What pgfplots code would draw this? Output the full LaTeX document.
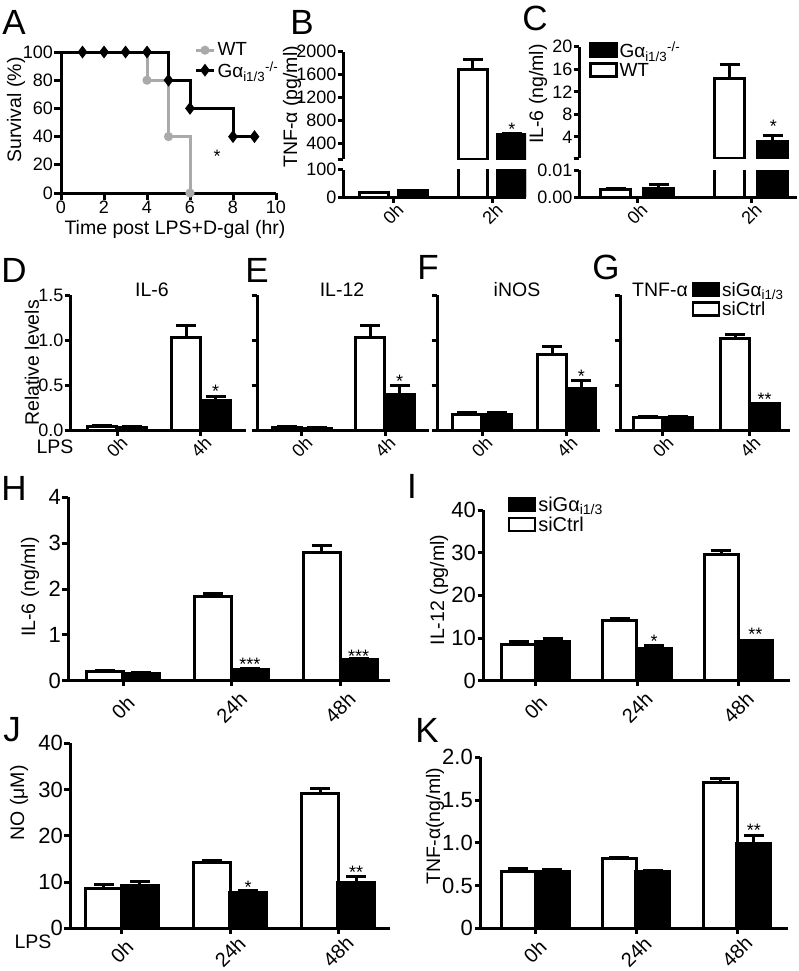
\documentclass[border=0pt]{standalone}
\usepackage{fontspec}
\setmainfont{Liberation Sans}
\usepackage{pgfplots}
\pgfplotsset{compat=1.18}
\definecolor{wtgray}{RGB}{170,170,170}
\newcommand{\fs}[1]{\fontsize{#1}{#1}\selectfont}
\newcommand{\Gai}{Gα\textsubscript{i1/3}}
\tikzset{st/.style={font=\fs{18}, anchor=base, yshift=-10.4pt}}
\pgfplotsset{
  base/.style={
    scale only axis, anchor=south west,
    axis x line*=bottom, axis y line*=left,
    axis line style={line width=3pt,-},
    tick style={line width=3pt, black},
    major tick length=5.5pt, tick align=outside,
    /pgf/number format/assume math mode=true,
    /pgf/number format/1000 sep={},
    scaled y ticks=false, scaled x ticks=false,
    every y tick label/.style={font=\fs{18}, inner sep=1pt},
    every x tick label/.style={yshift=-11pt, rotate=45, anchor=center, font=\fs{18}},
    clip mode=individual, clip marker paths=true,
  },
  big/.style={every y tick label/.style={font=\fs{22}, inner sep=1.5pt},
    every x tick label/.style={yshift=-21pt, rotate=45, anchor=center, font=\fs{20}}},
  bigb/.style={every y tick label/.style={font=\fs{22}, inner sep=1.5pt},
    every x tick label/.style={yshift=-18pt, rotate=45, anchor=center, font=\fs{20}}},
  boxleg/.style={legend image code/.code={\draw[##1, /tikz/.cd, line width=2.5pt] (0pt,-6pt) rectangle (26pt,7pt);}},
  lineleg/.style={legend image code/.code={\draw[##1, mark indices={2}] plot coordinates {(0pt,0pt) (9pt,0pt) (18pt,0pt)};}},
  wb/.style={ybar, bar shift=0pt, fill=white, draw=black, line width=3pt,
    error bars/y dir=plus, error bars/y explicit,
    error bars/error bar style={line width=3pt, black},
    error bars/error mark options={rotate=90, mark size=10pt, line width=3pt, black}, boxleg},
  bb/.style={ybar, bar shift=0pt, fill=black, draw=black, line width=3pt,
    error bars/y dir=plus, error bars/y explicit,
    error bars/error bar style={line width=3pt, black},
    error bars/error mark options={rotate=90, mark size=10pt, line width=3pt, black}, boxleg},
}
\begin{document}
\begin{tikzpicture}
\path[use as bounding box] (0,0) rectangle (799pt,-971pt);
% ---------------- A
\begin{axis}[base, at={(61pt,-193pt)}, width=215pt, height=141pt,
  xmin=0, xmax=10, ymin=0, ymax=100, xtick={0,2,...,10}, ytick={0,20,...,100},
  major tick length=7pt,
  every x tick label/.style={anchor=north, font=\fs{18}, inner sep=1pt},
  clip=false,
  legend style={at={(0.62,1.08)}, anchor=north west, draw=none, fill=none, font=\fs{19}, inner sep=0pt},
  legend cell align=left]
\addplot[const plot, wtgray, line width=3pt, mark=*, mark size=3pt, mark indices={2,3,4}, lineleg] coordinates {(0,100)(4,80)(5,40)(6,0)};
\addlegendentry{WT}
\addplot[const plot, black, line width=3pt, mark=diamond*, mark size=4pt, mark indices={2,3,4,5,6,7,8,9}, lineleg] coordinates {(0,100)(1,100)(2,100)(3,100)(4,100)(5,80)(6,60)(8,40)(9,40)};
\addlegendentry{\Gai\textsuperscript{-/-}}
\node[st] at (axis cs:7.26,29) {*};
\end{axis}
% ---------------- B (broken axis: lower 0-100, upper 120-2000)
\begin{axis}[base, at={(343pt,-197pt)}, width=183pt, height=27.5pt,
  xmin=-0.505, xmax=1.34, ymin=0, ymax=100, ytick={0,100}, xtick={0,1}, xticklabels={0h,2h},
  y filter/.expression={y>200 ? 200 : y}]
\addplot[wb, bar width=29pt] coordinates {(-0.197,15) +- (0,3) (0.803,1680) +- (0,190)};
\addplot[bb, bar width=29pt] coordinates {(0.197,22) +- (0,3) (1.197,550) +- (0,20)};
\end{axis}
\begin{axis}[base, at={(343pt,-159pt)}, width=183pt, height=107.3pt, axis x line=none,
  xmin=-0.505, xmax=1.34, ymin=120, ymax=2000, ytick={400,800,1200,1600,2000}, xtick=\empty,
  extra y ticks={120}, extra y tick labels={},
  unbounded coords=discard, y filter/.expression={y<120 ? nan : y}]
\addplot[wb, bar width=29pt] coordinates {(-0.197,15) +- (0,3) (0.803,1680) +- (0,190)};
\addplot[bb, bar width=29pt] coordinates {(0.197,22) +- (0,3) (1.197,550) +- (0,20)};
\node[st] at (axis cs:1.197,716) {*};
\end{axis}
% ---------------- C (broken axis: lower 0-0.01, upper 0.25-20)
\begin{axis}[base, at={(579pt,-197pt)}, width=218pt, height=27pt,
  xmin=-0.509, xmax=1.40, ymin=0, ymax=0.01, ytick={0,0.01}, yticklabels={0.00,0.01}, xtick={0,1}, xticklabels={0h,2h},
  y filter/.expression={y>0.02 ? 0.02 : y}]
\addplot[wb, bar width=30pt] coordinates {(-0.189,0.0028) +- (0,0.0004) (0.811,14.4) +- (0,0.0001)};
\addplot[bb, bar width=30pt] coordinates {(0.189,0.0032) +- (0,0.0015) (1.189,3.1) +- (0,0.0001)};
\end{axis}
\begin{axis}[base, at={(579pt,-158pt)}, width=218pt, height=111.3pt, axis x line=none,
  xmin=-0.509, xmax=1.40, ymin=0.25, ymax=20, ytick={4,8,12,16,20}, xtick=\empty,
  extra y ticks={0.25}, extra y tick labels={},
  unbounded coords=discard, y filter/.expression={y<0.25 ? nan : y},
  legend style={at={(0.045,1.065)}, anchor=north west, draw=none, fill=none, font=\fs{19}, inner sep=0pt},
  legend cell align=left]
\addplot[bb, bar width=30pt] coordinates {(0.189,0.0032) +- (0,0.0015) (1.189,3.1) +- (0,1.2)};
\addlegendentry{\Gai\textsuperscript{-/-}}
\addplot[wb, bar width=30pt] coordinates {(-0.189,0.0028) +- (0,0.0004) (0.811,14.4) +- (0,2.5)};
\addlegendentry{WT}
\node[st] at (axis cs:1.193,6.7) {*};
\end{axis}
% ---------------- D
\begin{axis}[base, at={(70pt,-430pt)}, width=176pt, height=135pt,
  xmin=-0.56, xmax=1.536, ymin=0, ymax=1.5, ytick={0,0.5,1,1.5}, xtick={0,1}, xticklabels={0h,4h},
  yticklabel style={/pgf/number format/.cd, fixed, fixed zerofill, precision=1}]
\addplot[wb, bar width=29pt] coordinates {(-0.173,0.035) +- (0,0.01) (0.827,1.03) +- (0,0.13)};
\addplot[bb, bar width=29pt] coordinates {(0.173,0.03) +- (0,0.005) (1.173,0.33) +- (0,0.04)};
\node[st] at (axis cs:1.173,0.48) {*};
\end{axis}
% ---------------- E
\begin{axis}[base, at={(257pt,-430pt)}, width=172pt, height=135pt,
  xmin=-0.542, xmax=1.53, ymin=0, ymax=1.5, ytick={0,0.5,1,1.5}, yticklabels={}, xtick={0,1}, xticklabels={0h,4h}]
\addplot[wb, bar width=29pt] coordinates {(-0.175,0.03) +- (0,0.01) (0.825,1.03) +- (0,0.13)};
\addplot[bb, bar width=29pt] coordinates {(0.175,0.02) +- (0,0.005) (1.175,0.40) +- (0,0.10)};
\node[st] at (axis cs:1.175,0.59) {*};
\end{axis}
% ---------------- F
\begin{axis}[base, at={(437pt,-430pt)}, width=163pt, height=135pt,
  xmin=-0.53, xmax=1.39, ymin=0, ymax=1.5, ytick={0,0.5,1,1.5}, yticklabels={}, xtick={0,1}, xticklabels={0h,4h}]
\addplot[wb, bar width=29pt] coordinates {(-0.171,0.17) +- (0,0.02) (0.829,0.84) +- (0,0.09)};
\addplot[bb, bar width=29pt] coordinates {(0.171,0.17) +- (0,0.02) (1.171,0.46) +- (0,0.09)};
\node[st] at (axis cs:1.171,0.64) {*};
\end{axis}
% ---------------- G
\begin{axis}[base, at={(620pt,-430pt)}, width=170pt, height=135pt,
  xmin=-0.494, xmax=1.46, ymin=0, ymax=1.5, ytick={0,0.5,1,1.5}, yticklabels={}, xtick={0,1}, xticklabels={0h,4h},
  legend style={at={(0.42,1.11)}, anchor=north west, draw=none, fill=none, font=\fs{19}, inner sep=0pt},
  legend cell align=left]
\addplot[bb, bar width=29pt] coordinates {(0.167,0.14) +- (0,0.005) (1.167,0.29) +- (0,0.01)};
\addlegendentry{si\Gai}
\addplot[wb, bar width=29pt] coordinates {(-0.167,0.14) +- (0,0.005) (0.833,1.02) +- (0,0.04)};
\addlegendentry{siCtrl}
\node[st] at (axis cs:1.167,0.39) {**};
\end{axis}
% ---------------- H
\begin{axis}[base, big, at={(68pt,-680.7pt)}, width=322pt, height=183.4pt,
  xmin=-0.507, xmax=2.46, ymin=0, ymax=4, ytick={0,1,2,3,4}, xtick={0,1,2}, xticklabels={0h,24h,48h}]
\addplot[wb, bar width=37pt] coordinates {(-0.17,0.196) +- (0,0.02) (0.83,1.83) +- (0,0.07) (1.83,2.79) +- (0,0.16)};
\addplot[bb, bar width=37pt] coordinates {(0.17,0.16) +- (0,0.02) (1.17,0.25) +- (0,0.02) (2.17,0.47) +- (0,0.01)};
\node[st] at (axis cs:1.17,0.45) {***};
\node[st] at (axis cs:2.17,0.63) {***};
\end{axis}
% ---------------- I
\begin{axis}[base, big, at={(483pt,-680.7pt)}, width=307pt, height=170.7pt,
  xmin=-0.52, xmax=2.51, ymin=0, ymax=40, ytick={0,10,20,30,40}, xtick={0,1,2}, xticklabels={0h,24h,48h},
  legend style={at={(0.08,1.09)}, anchor=north west, draw=none, fill=none, font=\fs{20}, inner sep=0pt},
  legend cell align=left]
\addplot[bb, bar width=34pt] coordinates {(0.168,9.1) +- (0,0.8) (1.168,7.6) +- (0,0.6) (2.168,9.4) +- (0,0.1)};
\addlegendentry{si\Gai}
\addplot[wb, bar width=34pt] coordinates {(-0.168,8.4) +- (0,0.7) (0.832,14.1) +- (0,0.4) (1.832,29.5) +- (0,1.0)};
\addlegendentry{siCtrl}
\node[st] at (axis cs:1.168,10.3) {*};
\node[st] at (axis cs:2.168,11.9) {**};
\end{axis}
% ---------------- J
\begin{axis}[base, bigb, at={(70pt,-928.3pt)}, width=320pt, height=185pt,
  xmin=-0.48, xmax=2.48, ymin=0, ymax=40, ytick={0,10,20,30,40}, xtick={0,1,2}, xticklabels={0h,24h,48h}]
\addplot[wb, bar width=37pt] coordinates {(-0.167,8.6) +- (0,0.8) (0.833,14.2) +- (0,0.4) (1.833,29.2) +- (0,1.1)};
\addplot[bb, bar width=37pt] coordinates {(0.167,9.2) +- (0,0.9) (1.167,7.7) +- (0,0.4) (2.167,9.9) +- (0,1.3)};
\node[st] at (axis cs:1.167,9.7) {*};
\node[st] at (axis cs:2.167,13.0) {**};
\end{axis}
% ---------------- K
\begin{axis}[base, bigb, at={(480pt,-928.3pt)}, width=308pt, height=171pt,
  xmin=-0.545, xmax=2.505, ymin=0, ymax=2, ytick={0,0.5,1,1.5,2}, yticklabels={0,0.5,1.0,1.5,2.0},
  xtick={0,1,2}, xticklabels={0h,24h,48h}]
\addplot[wb, bar width=34pt] coordinates {(-0.168,0.66) +- (0,0.04) (0.832,0.82) +- (0,0.005) (1.832,1.71) +- (0,0.04)};
\addplot[bb, bar width=34pt] coordinates {(0.168,0.67) +- (0,0.02) (1.168,0.67) +- (0,0.01) (2.168,0.99) +- (0,0.10)};
\node[st] at (axis cs:2.168,1.19) {**};
\end{axis}
% ---------------- texts
\begin{scope}[every node/.style={font=\fs{35}, inner sep=0pt}]
\node at (14pt,-22pt) {A};
\node at (302pt,-22pt) {B};
\node at (535pt,-18pt) {C};
\node at (14pt,-270pt) {D};
\node at (257pt,-270pt) {E};
\node at (428pt,-267pt) {F};
\node at (606pt,-267pt) {G};
\node at (14pt,-488pt) {H};
\node at (412pt,-486pt) {I};
\node at (12pt,-730pt) {J};
\node at (427pt,-730pt) {K};
\end{scope}
\begin{scope}[every node/.style={font=\fs{19.5}, inner sep=0pt}]
\node[rotate=90] at (16pt,-110pt) {Survival (\%)};
\node at (175pt,-229pt) {Time post LPS+D-gal (hr)};
\node[rotate=90] at (292pt,-107pt) {TNF-α (pg/ml)};
\node[rotate=90] at (538pt,-94pt) {IL-6 (ng/ml)};
\node[rotate=90] at (32pt,-363pt) {Relative levels};
\node at (152pt,-290pt) {IL-6};
\node at (342pt,-290pt) {IL-12};
\node at (517pt,-290pt) {iNOS};
\node at (660pt,-290pt) {TNF-α};
\node at (55pt,-447pt) {LPS};
\node[rotate=90] at (30pt,-587pt) {IL-6 (ng/ml)};
\node[rotate=90] at (439pt,-590pt) {IL-12 (pg/ml)};
\node[rotate=90] at (19pt,-803pt) {NO (μM)};
\node[rotate=90] at (435pt,-826pt) {TNF-α(ng/ml)};
\node at (33pt,-942pt) {LPS};
\end{scope}
\end{tikzpicture}
\end{document}
